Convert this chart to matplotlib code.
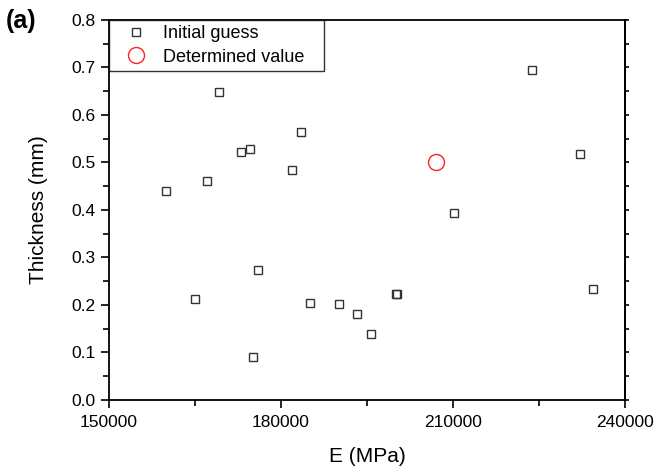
import numpy as np
import matplotlib
matplotlib.use("Agg")
import matplotlib.pyplot as plt

plt.rcParams['font.family'] = ['Liberation Sans', 'DejaVu Sans']

# initial guesses (E in MPa, thickness in mm)
guess_E = [160000, 169200, 167100, 173100, 174600, 183500, 182000, 176000,
           165100, 175100, 185100, 190100, 193300, 195800, 200000, 200300,
           223800, 232100, 210100, 234400]
guess_t = [0.440, 0.648, 0.460, 0.522, 0.527, 0.563, 0.483, 0.274,
           0.213, 0.091, 0.203, 0.201, 0.180, 0.138, 0.223, 0.223,
           0.695, 0.517, 0.394, 0.233]
# determined value
det_E = [207000]
det_t = [0.500]

fig = plt.figure(figsize=(6.72, 4.71), dpi=100)
ax = fig.add_axes([0.162, 0.151, 0.768, 0.807])

ax.plot(guess_E, guess_t, ls='none', marker='s', ms=6, mfc='none',
        mec='#333333', mew=1.0, label='Initial guess')
ax.plot(det_E, det_t, ls='none', marker='o', ms=11.5, mfc='none',
        mec='#ff2020', mew=1.0, label='Determined value')

ax.set_xlim(150000, 240000)
ax.set_ylim(0, 0.8)
ax.set_xticks([150000, 180000, 210000, 240000])
ax.set_xticks([165000, 195000, 225000], minor=True)
ax.set_yticks(np.arange(0, 0.81, 0.1))
ax.set_yticks(np.arange(0.05, 0.8, 0.1), minor=True)
ax.set_yticklabels(['%.1f' % v for v in np.arange(0, 0.81, 0.1)])

ax.tick_params(which='major', direction='out', length=6, width=1.2, labelsize=12.5)
ax.tick_params(which='minor', direction='out', length=4, width=1.2)
ax.tick_params(axis='x', pad=5)

for s in ax.spines.values():
    s.set_linewidth(1.3)

# right axis small ticks every 0.05
sec = ax.secondary_yaxis('right')
sec.set_yticks(np.arange(0, 0.81, 0.05))
sec.set_yticklabels([])
sec.tick_params(direction='out', length=3, width=1.2)
sec.spines['right'].set_linewidth(1.3)

ax.set_xlabel('E (MPa)', fontsize=15)
ax.xaxis.set_label_coords(0.5, -0.125)
ax.set_ylabel('Thickness (mm)', fontsize=15)
ax.yaxis.set_label_coords(-0.118, 0.5)

leg = ax.legend(loc='upper left', bbox_to_anchor=(0, 0, 0.4167, 1), mode='expand',
                borderaxespad=0, fontsize=13, frameon=True,
                fancybox=False, handletextpad=0.3, borderpad=0.3,
                labelspacing=0.35, handlelength=2.4)
leg.get_frame().set_edgecolor('black')
leg.get_frame().set_linewidth(1.0)

fig.text(0.008, 0.955, '(a)', fontsize=18, fontweight='bold', va='center')

fig.savefig('out.png', dpi=100)
